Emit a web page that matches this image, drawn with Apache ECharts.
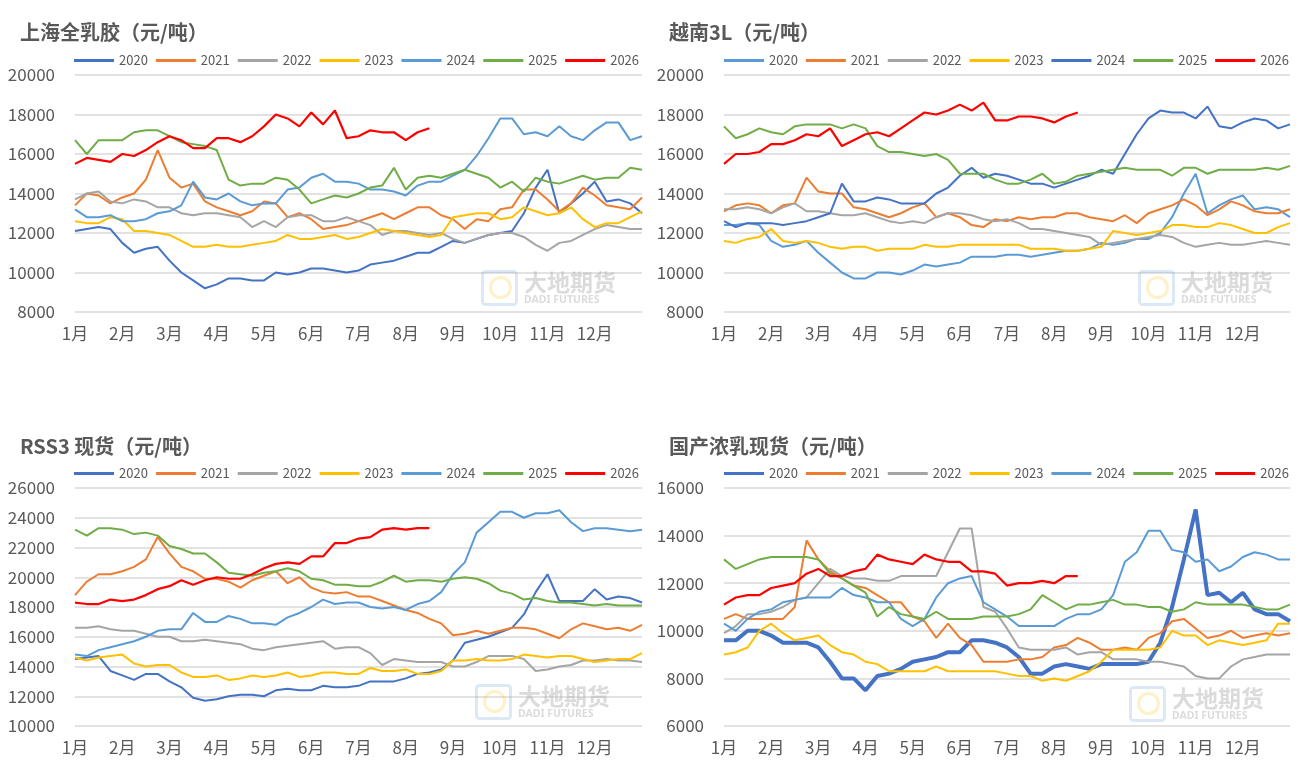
<!DOCTYPE html>
<html><head><meta charset="utf-8">
<script src="https://cdn.jsdelivr.net/npm/echarts@6/dist/echarts.min.js"></script>
<style>html,body{margin:0;padding:0;background:#fff}#c{width:1301px;height:769px}</style>
</head><body><div id="c"></div>
<script>
const months = ['1月','2月','3月','4月','5月','6月','7月','8月','9月','10月','11月','12月'];
const years = ['2020','2021','2022','2023','2024','2025','2026'];

// 上海全乳胶
const sh2020 = [12100,12200,12300,12200,11500,11000,11200,11300,10600,10000,9600,9200,9400,9700,9700,9600,9600,10000,9900,10000,10200,10200,10100,10000,10100,10400,10500,10600,10800,11000,11000,11300,11600,11500,11700,11900,12000,12100,13000,14300,15200,13000,13500,14000,14600,13600,13700,13500,13000];
const sh2021 = [13400,14000,13900,13500,13800,14000,14700,16200,14800,14300,14500,13600,13300,13100,12900,13100,13600,13500,12800,13000,12700,12200,12300,12400,12600,12800,13000,12700,13000,13300,13300,12900,12700,12200,12700,12600,13200,13300,14200,14200,13700,13100,13500,14300,13900,13400,13300,13200,13800];
const sh2022 = [13700,14000,14100,13600,13500,13700,13600,13300,13300,13000,12900,13000,13000,12900,12800,12300,12600,12300,12800,12900,12900,12600,12600,12800,12600,12400,11900,12100,12100,12000,11900,12000,11700,11500,11700,11900,12000,12000,11800,11400,11100,11500,11600,11900,12200,12400,12300,12200,12200];
const sh2023 = [12600,12500,12500,12800,12700,12100,12100,12000,11900,11600,11300,11300,11400,11300,11300,11400,11500,11600,11900,11700,11700,11800,11900,11700,11800,12000,12200,12100,12000,11900,11800,11900,12800,12900,13000,13000,12700,12800,13300,13100,12900,13000,13300,12700,12300,12500,12500,12800,13100];
const sh2024 = [13200,12800,12800,12900,12600,12600,12700,13000,13100,13400,14600,13800,13700,14000,13600,13400,13500,13500,14200,14300,14800,15000,14600,14600,14500,14200,14200,14100,13900,14400,14600,14600,14900,15200,15900,16800,17800,17800,17000,17100,16900,17400,16900,16700,17200,17600,17600,16700,16900];
const sh2025 = [16700,16000,16700,16700,16700,17100,17200,17200,16900,16600,16500,16400,16200,14700,14400,14500,14500,14800,14700,14200,13500,13700,13900,13800,14000,14300,14400,15300,14200,14800,14900,14800,15000,15200,15000,14800,14300,14600,14100,14800,14600,14500,14700,14900,14700,14800,14800,15300,15200];
const sh2026 = [15500,15800,15700,15600,16000,15900,16200,16600,16900,16700,16300,16300,16800,16800,16600,16900,17400,18000,17800,17400,18100,17500,18200,16800,16900,17200,17100,17100,16700,17100,17300];

// 越南3L
const vn2020 = [12400,12400,12500,12400,11600,11300,11400,11600,11000,10500,10000,9700,9700,10000,10000,9900,10100,10400,10300,10400,10500,10800,10800,10800,10900,10900,10800,10900,11000,11100,11100,11200,11500,11400,11500,11700,11700,12000,12800,14000,15000,13000,13400,13700,13900,13200,13300,13200,12800];
const vn2021 = [13100,13400,13500,13400,13000,13400,13500,14800,14100,14000,14000,13300,13200,13000,12800,13000,13300,13500,12800,13000,12800,12400,12300,12700,12600,12800,12700,12800,12800,13000,13000,12800,12700,12600,12900,12500,13000,13200,13400,13700,13400,12900,13200,13600,13400,13100,13000,13000,13200];
const vn2022 = [13200,13200,13300,13200,13000,13300,13500,13100,13100,13000,12900,12900,13000,12800,12600,12500,12600,12500,12800,13000,13000,12900,12700,12600,12700,12500,12200,12200,12100,12000,11900,11800,11400,11500,11600,11700,11800,11900,11800,11500,11300,11400,11500,11400,11400,11500,11600,11500,11400];
const vn2023 = [11600,11500,11700,11800,12200,11600,11500,11600,11500,11300,11200,11300,11300,11100,11200,11200,11200,11400,11300,11300,11400,11400,11400,11400,11400,11400,11200,11200,11200,11100,11100,11200,11300,12100,12000,11900,12000,12100,12400,12400,12300,12300,12500,12400,12200,12000,12000,12300,12500];
const vn2024 = [12600,12300,12500,12500,12500,12400,12500,12600,12800,13000,14500,13600,13600,13800,13700,13500,13500,13500,14000,14300,14900,15300,14800,15000,14900,14700,14500,14500,14300,14500,14700,14900,15200,15000,16000,17000,17800,18200,18100,18100,17800,18400,17400,17300,17600,17800,17700,17300,17500];
const vn2025 = [17400,16800,17000,17300,17100,17000,17400,17500,17500,17500,17300,17500,17300,16400,16100,16100,16000,15900,16000,15700,15000,15000,15000,14700,14500,14500,14700,15000,14500,14600,14900,15000,15100,15200,15300,15200,15200,15200,14900,15300,15300,15000,15200,15200,15200,15200,15300,15200,15400];
const vn2026 = [15500,16000,16000,16100,16500,16500,16700,17000,16900,17300,16400,16700,17000,17100,16900,17300,17700,18100,18000,18200,18500,18200,18600,17700,17700,17900,17900,17800,17600,17900,18100];

// RSS3 现货
const rss2020 = [14500,14600,14700,13700,13400,13100,13500,13500,13000,12600,11900,11700,11800,12000,12100,12100,12000,12400,12500,12400,12400,12700,12600,12600,12700,13000,13000,13000,13200,13500,13600,13800,14400,15600,15800,16000,16300,16600,17500,19000,20200,18400,18400,18400,19200,18500,18700,18600,18300];
const rss2021 = [18800,19700,20200,20200,20400,20700,21200,22700,21600,20700,20400,19900,19900,19700,19300,19800,20100,20400,19600,20000,19300,19000,18900,19000,18700,18700,18400,18100,17800,17600,17200,16900,16100,16200,16400,16200,16400,16600,16600,16500,16200,15900,16500,16900,16700,16500,16600,16400,16800];
const rss2022 = [16600,16600,16700,16500,16400,16400,16200,16000,16000,15700,15700,15800,15700,15600,15500,15200,15100,15300,15400,15500,15600,15700,15200,15300,15300,14900,14100,14500,14400,14300,14300,14300,14000,14000,14300,14700,14700,14700,14500,13700,13800,14000,14100,14400,14400,14500,14400,14400,14300];
const rss2023 = [14600,14400,14600,14700,14800,14200,14000,14100,14100,13600,13300,13300,13400,13100,13200,13400,13300,13400,13600,13300,13400,13600,13600,13500,13500,13900,13700,13700,13800,13500,13500,13700,14400,14400,14500,14400,14400,14500,14800,14700,14600,14700,14700,14500,14300,14400,14500,14500,14900];
const rss2024 = [14800,14700,15100,15300,15500,15700,16000,16400,16500,16500,17600,17000,17000,17400,17200,16900,16900,16800,17300,17600,18000,18500,18200,18300,18300,18000,17900,18000,17800,18200,18400,19000,20200,21000,23000,23700,24400,24400,24000,24300,24300,24500,23700,23100,23300,23300,23200,23100,23200];
const rss2025 = [23200,22800,23300,23300,23200,22900,23000,22800,22100,21900,21600,21600,21000,20300,20200,20100,20300,20400,20600,20400,19900,19800,19500,19500,19400,19400,19700,20100,19700,19800,19800,19700,19900,20000,19900,19600,19100,18900,18500,18600,18400,18300,18300,18200,18100,18200,18100,18100,18100];
const rss2026 = [18300,18200,18200,18500,18400,18500,18800,19200,19400,19800,19500,19800,20000,19900,19900,20200,20600,20900,21000,20900,21400,21400,22300,22300,22600,22700,23200,23300,23200,23300,23300];

// 国产浓乳现货
const cn2020 = [9600,9600,10000,10000,9800,9500,9500,9500,9300,8700,8000,8000,7500,8100,8200,8400,8700,8800,8900,9100,9100,9600,9600,9500,9300,8900,8200,8200,8500,8600,8500,8400,8600,8600,8600,8600,8700,9500,11000,13000,15100,11500,11600,11200,11600,10900,10700,10700,10400];
const cn2021 = [10500,10700,10500,10500,10500,10500,11000,13800,13000,12500,12200,11900,11800,11500,11200,11200,10600,10400,9700,10300,9700,9400,8700,8700,8700,8800,8800,8900,9300,9400,9700,9500,9200,9200,9300,9200,9700,9900,10400,10500,10100,9700,9800,10000,9700,9800,9900,9800,9900];
const cn2022 = [9900,10200,10700,10700,10800,11000,11300,11400,12000,12600,12300,12200,12200,12100,12100,12300,12300,12300,12300,13300,14300,14300,11000,10800,10100,9300,9200,9200,9200,9300,9000,9100,9100,8800,8800,8800,8700,8700,8600,8500,8100,8000,8000,8500,8800,8900,9000,9000,9000];
const cn2023 = [9000,9100,9300,10000,10300,9900,9600,9700,9800,9400,9100,9000,8700,8600,8300,8300,8300,8300,8500,8300,8300,8300,8300,8300,8200,8100,8100,7900,8000,7900,8100,8300,8700,9200,9200,9200,9200,9300,10000,9800,9800,9400,9600,9500,9400,9500,9600,10300,10300];
const cn2024 = [10300,10000,10500,10800,10900,11200,11300,11400,11400,11400,11800,11500,11400,11200,11200,10500,10200,10500,11400,12000,12200,12300,11200,10900,10600,10200,10200,10200,10200,10500,10700,10700,10900,11500,12900,13300,14200,14200,13400,13300,12900,13000,12500,12700,13100,13300,13200,13000,13000];
const cn2025 = [13000,12600,12800,13000,13100,13100,13100,13100,13000,12400,12200,11900,11600,10600,11000,10700,10600,10500,10800,10500,10500,10500,10600,10600,10600,10700,10900,11500,11200,10900,11100,11100,11200,11300,11100,11100,11000,11000,10800,10900,11200,11100,11100,11100,11100,11000,10900,10900,11100];
const cn2026 = [11100,11400,11500,11500,11800,11900,12000,12400,12600,12300,12300,12500,12600,13200,13000,12900,12800,13200,13000,12900,12900,12500,12500,12400,11900,12000,12000,12100,12000,12300,12300];

const C = {blue:'#4472C4', orange:'#ED7D31', gray:'#A5A5A5', yellow:'#FFC000', lblue:'#5B9BD5', green:'#70AD47', red:'#FF0000'};
const panels = [
  {title:'上海全乳胶（元/吨）', tx:20, ty:22, lx:74, ly:54, left:75, top:75, width:567, height:237, min:8000, max:20000,
   series:[sh2020,sh2021,sh2022,sh2023,sh2024,sh2025,sh2026],
   colors:[C.blue,C.orange,C.gray,C.yellow,C.lblue,C.green,C.red], widths:[2,2,2,2,2,2,2.2], wm:[481,270]},
  {title:'越南3L（元/吨）', tx:669, ty:22, lx:724, ly:54, left:724, top:75, width:566, height:237, min:8000, max:20000,
   series:[vn2020,vn2021,vn2022,vn2023,vn2024,vn2025,vn2026],
   colors:[C.lblue,C.orange,C.gray,C.yellow,C.blue,C.green,C.red], widths:[2,2,2,2,2,2,2.2], wm:[1138,270]},
  {title:'RSS3 现货（元/吨）', tx:20, ty:436, lx:74, ly:467, left:75, top:488, width:567, height:238, min:10000, max:26000,
   series:[rss2020,rss2021,rss2022,rss2023,rss2024,rss2025,rss2026],
   colors:[C.blue,C.orange,C.gray,C.yellow,C.lblue,C.green,C.red], widths:[2,2,2,2,2,2,2.2], wm:[475,684]},
  {title:'国产浓乳现货（元/吨）', tx:669, ty:436, lx:724, ly:467, left:724, top:488, width:566, height:238, min:6000, max:16000,
   series:[cn2020,cn2021,cn2022,cn2023,cn2024,cn2025,cn2026],
   colors:[C.blue,C.orange,C.gray,C.yellow,C.lblue,C.green,C.red], widths:[4,2,2,2,2,2,2.2], wm:[1129,686]}
];

const nPts = 49;
const xCats = Array.from({length:nPts}, (_, i) => (i % 4 === 0 && i < 48) ? months[i / 4] : '');
const FONT = '"Noto Sans CJK SC","Noto Sans",sans-serif';

const option = {
  animation:false, backgroundColor:'#fff',
  title:[], legend:[], grid:[], xAxis:[], yAxis:[], series:[], graphic:[]
};

panels.forEach((p, k) => {
  option.title.push({text:p.title, left:p.tx, top:p.ty, padding:0,
    textStyle:{fontFamily:FONT, fontSize:20, fontWeight:'bold', color:'#595959'}});
  option.legend.push({left:p.lx, top:p.ly, padding:0, width:660, itemWidth:40, itemHeight:3, itemGap:8, icon:'rect',
    textStyle:{fontFamily:FONT, fontSize:13, color:'#595959', padding:[0,0,0,0]},
    data: years.map((y, j) => ({name:y, itemStyle:{color:p.colors[j], borderWidth:0}}))});
  option.grid.push({left:p.left, top:p.top, width:p.width, height:p.height, containLabel:false});
  option.xAxis.push({type:'category', gridIndex:k, data:xCats, boundaryGap:false,
    axisLine:{show:false}, axisTick:{show:false}, splitLine:{show:false},
    axisLabel:{interval:3, margin:13, fontFamily:FONT, fontSize:17, color:'#595959'}});
  option.yAxis.push({type:'value', gridIndex:k, min:p.min, max:p.max, interval:2000,
    axisLine:{show:false}, axisTick:{show:false},
    splitLine:{lineStyle:{color:'#d9d9d9', width:1.5}},
    axisLabel:{margin:20, fontFamily:FONT, fontSize:17, color:'#595959', formatter: v => String(v)}});
  p.series.forEach((d, j) => {
    option.series.push({type:'line', name:years[j], xAxisIndex:k, yAxisIndex:k, data:d,
      showSymbol:false, symbol:'none', color:p.colors[j],
      lineStyle:{color:p.colors[j], width:p.widths[j]}, z: 2 + j});
  });
  const [wx, wy] = p.wm;
  option.graphic.push(
    {type:'rect', left:wx, top:wy, shape:{width:34, height:33, r:3}, silent:true, z:1,
     style:{fill:'rgba(0,0,0,0)', stroke:'rgba(91,155,213,0.22)', lineWidth:3}},
    {type:'circle', left:wx + 8, top:wy + 6, shape:{r:10}, silent:true, z:1,
     style:{fill:'rgba(0,0,0,0)', stroke:'rgba(255,192,0,0.22)', lineWidth:3}},
    {type:'text', left:wx + 43, top:wy + 1, silent:true, z:1,
     style:{text:'大地期货', font:'bold 23px "Noto Sans CJK SC"', fill:'rgba(175,175,175,0.45)'}},
    {type:'text', left:wx + 43, top:wy + 25, silent:true, z:1,
     style:{text:'DADI FUTURES', font:'bold 10.5px "Noto Sans"', fill:'rgba(175,175,175,0.45)'}}
  );
});

const chart = echarts.init(document.getElementById('c'), null, {renderer:'canvas'});
chart.setOption(option);
</script>
</body></html>
